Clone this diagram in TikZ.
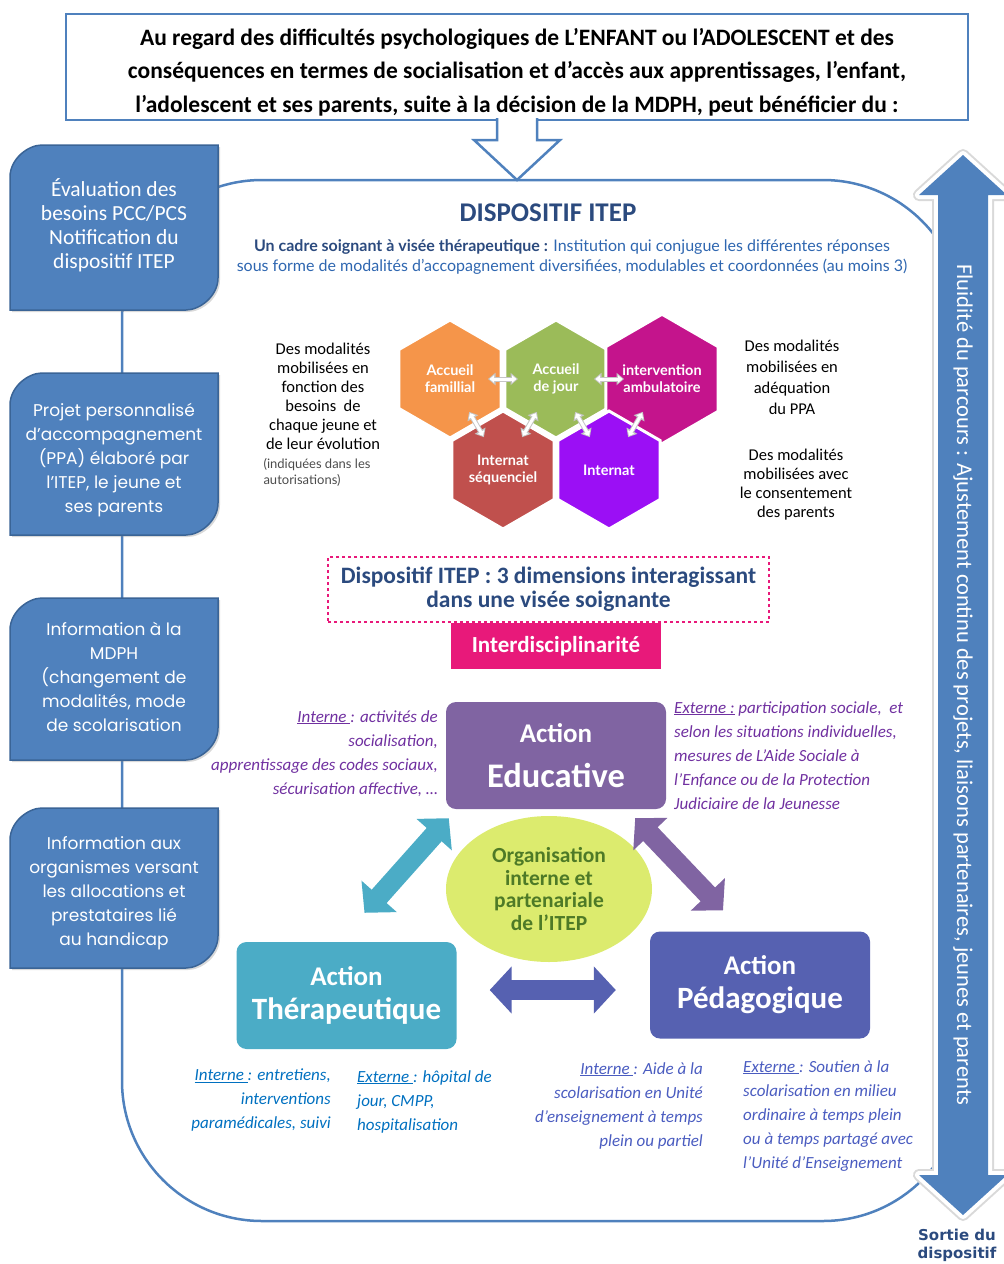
\documentclass[tikz,border=0pt]{standalone}
\usepackage{fontspec}
\setmainfont{Carlito}
\newfontfamily\gothicfont{Poppins}
\newfontfamily\avenirfont{Lato}
\newfontfamily\verdfont{DejaVu Sans}
\usepackage{xcolor}
\usepackage{tikz}
\usetikzlibrary{shapes,shadows,arrows,calc}
\usetikzlibrary{arrows.meta}

\definecolor{itepblue}{HTML}{4F81BD}
\definecolor{boxedge}{HTML}{3A6496}
\definecolor{navy}{HTML}{2B4A7E}
\definecolor{subblue}{HTML}{2E66B0}
\definecolor{hexorange}{HTML}{F5954A}
\definecolor{hexgreen}{HTML}{9BBB59}
\definecolor{hexmagenta}{HTML}{C4148C}
\definecolor{hexred}{HTML}{C0504D}
\definecolor{hexpurple}{HTML}{9B0FF5}
\definecolor{pinkish}{HTML}{E8197A}
\definecolor{edupurple}{HTML}{8064A2}
\definecolor{therateal}{HTML}{4BACC6}
\definecolor{pedablue}{HTML}{5661B1}
\definecolor{limegreen}{HTML}{DCEB6E}
\definecolor{olivegreen}{HTML}{4E7A27}
\definecolor{edutext}{HTML}{7030A0}
\definecolor{theratext}{HTML}{0070C0}
\definecolor{pedatext}{HTML}{4A5CC0}

\begin{document}
\begin{tikzpicture}[x=1pt, y=-1pt,
    introtext/.style={align=center, font=\bfseries\fontsize{23.5}{33.5}\selectfont},
    leftbox/.style={fill=itepblue, draw=boxedge, line width=1.5pt, drop shadow={opacity=0.3, shadow xshift=2pt, shadow yshift=-2pt}},
    lefttext/.style={text=white, align=center},
    hexa/.style={regular polygon, regular polygon sides=6, shape border rotate=30, minimum size=118pt, inner sep=0pt, draw=white, line width=3pt, text=white, align=center, font=\avenirfont\bfseries\fontsize{14.5}{17}\selectfont},
    hexlink/.style={{Triangle[width=0pt 2.4,length=0pt 1.5]}-{Triangle[width=0pt 2.4,length=0pt 1.5]}},
    action/.style={rounded corners=10pt, minimum width=220pt, minimum height=107pt, text=white, align=center, font=\bfseries\fontsize{27}{34}\selectfont},
    bigarrow/.style={line width=20pt, {Triangle[width=46pt,length=22pt]}-{Triangle[width=46pt,length=22pt]}},
    note/.style={inner sep=0pt, font=\itshape\fontsize{17}{24}\selectfont},
  ]

    \useasboundingbox (0,0) rectangle (1004,1264);

    % frame of the dispositif
    \draw[itepblue, line width=2.5pt, rounded corners=140pt] (122,180) rectangle (963,1221);

    % right double arrow
    \fill[itepblue, preaction={draw=gray!30, line width=12pt, line join=round}, preaction={draw=white, line width=8pt, line join=round}]
        (963,155) -- (1007,195) -- (988,195) -- (988,1175) -- (1007,1175) -- (963,1215)
        -- (919,1175) -- (938,1175) -- (938,195) -- (919,195) -- cycle;
    \node[rotate=-90, text=white, font=\fontsize{22.5}{26}\selectfont] (fluid) at (963,685) {Fluidité du parcours : Ajustement continu des projets, liaisons partenaires, jeunes et parents};
    \node[font=\verdfont\bfseries\fontsize{15}{18}\selectfont, text=navy, align=center] (exit) at (957,1245) {Sortie du\\dispositif};

    % top box and hollow arrow
    \draw[itepblue, line width=2.5pt, fill=white] (66,14) rectangle (968,120);
    \node[introtext] (intro) at (517,72) {Au regard des difficultés psychologiques de L’ENFANT ou l’ADOLESCENT et des\\conséquences en termes de socialisation et d’accès aux apprentissages, l’enfant,\\l’adolescent et ses parents, suite à la décision de la MDPH, peut bénéficier du :};
    \coordinate (introfoot) at (517,120);
    \fill[white] ([shift={(-19,-4)}]introfoot) rectangle ([shift={(19,3)}]introfoot);
    \draw[itepblue, line width=2.5pt, fill=white] ([shift={(-20,-2)}]introfoot) -- ++(0,22) -- ++(-23,0) -- ++(43,40) -- ++(43,-40) -- ++(-23,0) -- ++(0,-22);

    % left column
    \foreach \n/\yt/\yb/\ty/\f/\txt in {
        eval/145/310/225.5/{\fontsize{21.5}{24}\selectfont}/{Évaluation des\\besoins PCC/PCS\\Notification du\\dispositif ITEP},
        ppa/373/535/460/{\gothicfont\fontsize{17}{24}\selectfont}/{Projet personnalisé\\d’accompagnement\\(PPA) élaboré par\\l’ITEP, le jeune et\\ses parents},
        mdph/598/760/677/{\gothicfont\fontsize{17}{24}\selectfont}/{Information à la\\MDPH\\(changement de\\modalités, mode\\de scolarisation},
        orgs/808/968/893/{\gothicfont\fontsize{17}{24}\selectfont}/{Information aux\\organismes versant\\les allocations et\\prestataires lié\\au handicap}} {
        \filldraw[leftbox] (10,\yb) -- (10,\yt+32) .. controls (10,\yt+14) and (28,\yt) .. (42,\yt) -- (218,\yt)
            -- (218,\yb-32) .. controls (218,\yb-14) and (200,\yb) .. (186,\yb) -- cycle;
        \node[lefttext, font=\f] (\n) at (114,\ty) {\txt};
    }

    % header of the dispositif
    \node[font=\bfseries\fontsize{27}{30}\selectfont, text=navy] (title) at (548,213) {DISPOSITIF ITEP};
    \node[font=\avenirfont\fontsize{16}{20}\selectfont, text=subblue, align=center] (cadre) at (572,257) {{\bfseries\color{navy}Un cadre soignant à visée thérapeutique :} Institution qui conjugue les différentes réponses\\sous forme de modalités d’accopagnement diversifiées, modulables et coordonnées (au moins 3)};

    % hexagons
    \foreach \n/\x/\y/\c/\txt in {fam/450/379/hexorange/{Accueil\\famillial}, jour/556/379/hexgreen/{Accueil\\de jour}, amb/662/379/hexmagenta/{intervention\\ambulatoire}, seq/503/470/hexred/{Internat\\séquenciel}, int/609/470/hexpurple/{Internat}} {
        \node[hexa, fill=\c] (\n) at (\x,\y) {\txt};
    }
    \foreach \a/\b in {fam/jour, jour/amb, fam/seq, jour/seq, jour/int, amb/int} {
        \draw[hexlink, gray!45, line width=5pt, shorten <=38pt, shorten >=38pt] (\a.center) -- (\b.center);
        \draw[hexlink, white, line width=3pt, shorten <=39.5pt, shorten >=39.5pt] (\a.center) -- (\b.center);
    }
    \node[align=center, font=\fontsize{16.5}{19}\selectfont] (leftmod) at (323,396) {Des modalités\\mobilisées en\\fonction des\\besoins~ de\\chaque jeune et\\de leur évolution};
    \node[anchor=north west, align=left, text=black!70, font=\avenirfont\fontsize{13}{16}\selectfont] (leftnote) at (260,455) {(indiquées dans les\\autorisations)};
    \node[align=center, font=\fontsize{16.5}{21}\selectfont] (rightmod) at (792,377) {Des modalités\\mobilisées en\\adéquation\\du PPA};
    \node[align=center, font=\fontsize{16.5}{19}\selectfont] (consent) at (796,485) {Des modalités\\mobilisées avec\\le consentement\\des parents};

    % three dimensions
    \node[draw=pinkish, dashed, line width=1.5pt, minimum width=441pt, minimum height=65pt, align=center, text=navy, font=\bfseries\fontsize{23.5}{24}\selectfont] (dims) at (548.5,589.5) {Dispositif ITEP : 3 dimensions interagissant\\dans une visée soignante};
    \node[fill=pinkish, minimum width=210pt, minimum height=46pt, text=white, font=\bfseries\fontsize{23}{24}\selectfont] (interd) at (556,646) {Interdisciplinarité};

    \node[action, fill=edupurple] (educ) at (556,755.5) {Action\\[11pt]{\fontsize{34.5}{34}\selectfont Educative}};
    \node[ellipse, fill=limegreen, minimum width=206pt, minimum height=146pt, align=center, text=olivegreen, font=\bfseries\fontsize{21.5}{22.5}\selectfont] (orga) at (549,889) {Organisation\\interne et\\partenariale\\de l’ITEP};
    \node[action, fill=therateal] (ther) at (346.5,995.5) {Action\\{\fontsize{31}{34}\selectfont Thérapeutique}};
    \node[action, fill=pedablue] (ped) at (760,985) {Action\\{\fontsize{31}{34}\selectfont Pédagogique}};

    % links between the actions
    \draw[bigarrow, therateal] ([shift={(3,9)}]educ.south west) -- ([shift={(18,-29)}]ther.north);
    \draw[bigarrow, edupurple] ([shift={(-31,9)}]educ.south east) -- ([shift={(-37,-21)}]ped.north);
    \draw[bigarrow, pedablue] ([shift={(33,-5.5)}]ther.east) -- ([shift={(-34,5)}]ped.west);

    % notes
    \node[note, text=edutext, anchor=north east, align=right] (eduint) at (438,710) {\underline{Interne }: activités de\\socialisation,\\apprentissage des codes sociaux,\\sécurisation affective, …};
    \node[note, text=edutext, anchor=north west, align=left] (eduext) at (674,701) {\underline{Externe :} participation sociale,~ et\\selon les situations individuelles,\\mesures de L’Aide Sociale à\\l’Enfance ou de la Protection\\Judiciaire de la Jeunesse};
    \node[note, text=theratext, anchor=north east, align=right] (therint) at (331,1069) {\underline{Interne }: entretiens,\\interventions\\paramédicales, suivi};
    \node[note, text=theratext, anchor=north west, align=left] (therext) at (357,1070) {\underline{Externe }: hôpital de\\jour, CMPP,\\hospitalisation};
    \node[note, text=pedatext, anchor=north east, align=right] (pedint) at (703,1062) {\underline{Interne }: Aide à la\\scolarisation en Unité\\d’enseignement à temps\\plein ou partiel};
    \node[note, text=pedatext, anchor=north west, align=left] (pedext) at (743,1060) {\underline{Externe }: Soutien à la\\scolarisation en milieu\\ordinaire à temps plein\\ou à temps partagé avec\\l’Unité d’Enseignement};

\end{tikzpicture}
\end{document}
